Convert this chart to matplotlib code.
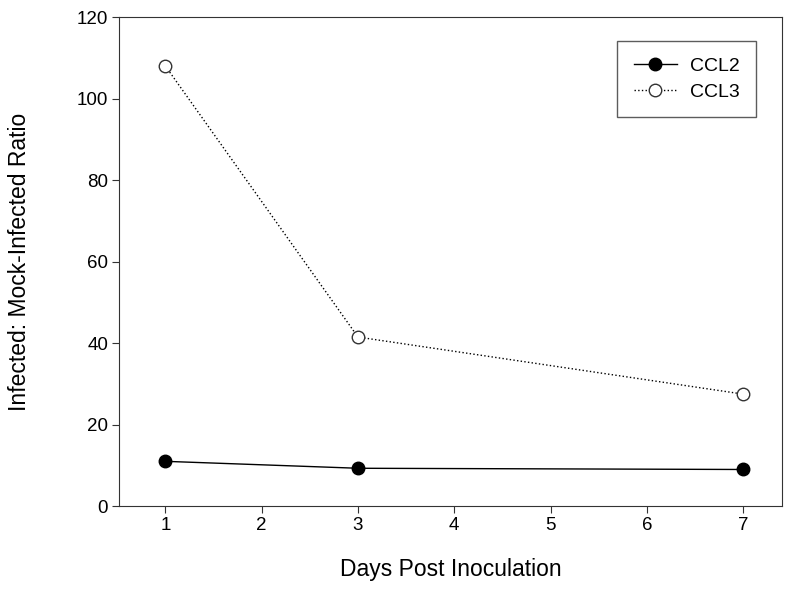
import matplotlib
matplotlib.use("Agg")
import matplotlib.pyplot as plt

plt.rcParams['font.family'] = ['Liberation Sans', 'DejaVu Sans']

# data
days = [1, 3, 7]
ccl2 = [11.0, 9.3, 9.0]
ccl3 = [108.0, 41.5, 27.5]

fig = plt.figure(figsize=(8, 5.92), dpi=100)
ax = fig.add_axes([0.149, 0.145, 0.828, 0.826])

ax.plot(days, ccl2, '-', color='black', lw=1.0, marker='o', ms=9,
        mfc='black', mec='black', label='CCL2')
ax.plot(days, ccl3, ':', color='black', lw=1.0, marker='o', ms=9,
        mfc='white', mec='#333333', label='CCL3')

ax.set_xlim(0.52, 7.4)
ax.set_ylim(0, 120)
ax.set_xticks(range(1, 8))
ax.set_yticks(range(0, 121, 20))
ax.tick_params(direction='out', length=5, pad=3, labelsize=13.5, color='#333333')
for s in ax.spines.values():
    s.set_color('#333333')

ax.set_xlabel('Days Post Inoculation', fontsize=16.5, labelpad=17)
ax.set_ylabel('Infected: Mock-Infected Ratio', fontsize=16.5, labelpad=33)

leg = ax.legend(loc='upper right', bbox_to_anchor=(0.962, 0.951), fontsize=14,
                frameon=True, fancybox=False, edgecolor='#333333',
                borderpad=0.85, borderaxespad=0, handlelength=2.2,
                handletextpad=0.7, labelspacing=0.4)
leg.get_frame().set_linewidth(1.0)

fig.savefig('out.png', dpi=100)
